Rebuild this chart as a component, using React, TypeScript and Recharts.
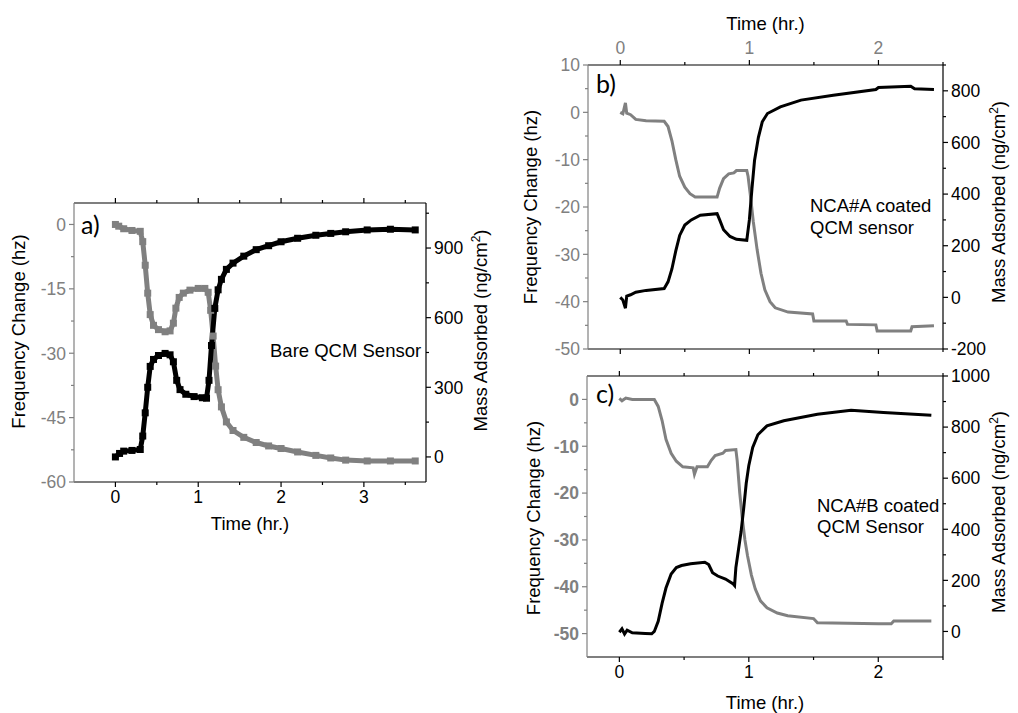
import { LineChart, Line, XAxis, YAxis } from "recharts";

const GRAY = "#808080";
const BLACK = "#000000";
const FONT = "'Liberation Sans', Arial, sans-serif";

// ---- panel a: bare QCM sensor ----
const aFreqTime = [0, 0.04, 0.1, 0.2, 0.3, 0.33, 0.36, 0.39, 0.42, 0.46, 0.52, 0.6, 0.66, 0.7, 0.73, 0.77, 0.82, 0.9, 1.0, 1.08, 1.12, 1.15, 1.18, 1.21, 1.24, 1.28, 1.34, 1.42, 1.55, 1.7, 1.85, 2.0, 2.2, 2.42, 2.6, 2.78, 3.04, 3.32, 3.62];
const aFreq = [0, -0.4, -1.0, -1.4, -1.6, -4, -9.5, -16, -21, -23.5, -24.5, -25, -24.8, -23, -19.5, -17, -16, -15.3, -14.9, -14.9, -15.8, -20, -26, -33, -38.5, -42.5, -46, -48, -49.6, -50.8, -51.6, -52.2, -53, -53.8, -54.4, -54.9, -55.1, -55.1, -55.1];
const aMassTime = [0, 0.05, 0.1, 0.2, 0.3, 0.33, 0.36, 0.39, 0.42, 0.46, 0.52, 0.6, 0.66, 0.7, 0.74, 0.78, 0.85, 0.95, 1.05, 1.1, 1.13, 1.16, 1.2, 1.24, 1.28, 1.34, 1.42, 1.55, 1.7, 1.85, 2.0, 2.2, 2.42, 2.6, 2.78, 3.04, 3.32, 3.62];
const aMass = [0, 15, 25, 28, 32, 90, 190, 300, 390, 420, 437, 446, 440, 410, 330, 290, 270, 260, 255, 253, 330, 480, 640, 720, 765, 808, 835, 865, 893, 910, 927, 942, 955, 963, 970, 978, 981, 978];
const aTimeTicks = [0, 0.5, 1, 1.5, 2, 2.5, 3, 3.5];
const aTimeMajor = [0, 1, 2, 3];
const aFreqTicks = [-60, -52.5, -45, -37.5, -30, -22.5, -15, -7.5, 0];
const aFreqMajor = [-60, -45, -30, -15, 0];
const aMassTicks = [0, 150, 300, 450, 600, 750, 900, 1050];
const aMassMajor = [0, 300, 600, 900];

// ---- panel b: NCA#A coated ----
const bFreqTime = [0, 0.02, 0.04, 0.05, 0.08, 0.12, 0.2, 0.34, 0.37, 0.4, 0.43, 0.46, 0.5, 0.54, 0.58, 0.75, 0.77, 0.8, 0.84, 0.88, 0.9, 0.98, 0.99, 1.01, 1.03, 1.06, 1.09, 1.12, 1.16, 1.2, 1.3, 1.49, 1.5, 1.75, 1.76, 1.98, 1.99, 2.25, 2.26, 2.43];
const bFreq = [0, -0.3, 2.0, -0.2, -0.5, -1.5, -1.8, -1.9, -3, -6, -10, -13.5, -15.8, -17.2, -17.9, -17.9, -16, -14, -13, -12.8, -12.3, -12.3, -13.5, -18, -23, -29, -34, -37.5, -40, -41.3, -42.2, -42.6, -44.1, -44.1, -44.8, -44.9, -46.2, -46.2, -45.3, -45.1];
const bMassTime = [0, 0.02, 0.04, 0.05, 0.08, 0.12, 0.2, 0.34, 0.37, 0.4, 0.43, 0.46, 0.5, 0.55, 0.62, 0.75, 0.77, 0.8, 0.85, 0.9, 0.98, 1.0, 1.02, 1.04, 1.07, 1.1, 1.14, 1.24, 1.4, 1.65, 1.98, 2.0, 2.25, 2.28, 2.43];
const bMass = [0, -10, -42, 5, 10, 20, 27, 34, 60, 110, 180, 240, 280, 300, 318, 324, 300, 262, 236, 225, 221, 300, 420, 530, 620, 680, 712, 738, 764, 783, 805, 813, 818, 808, 805];
const bTimeTicks = [0, 0.5, 1, 1.5, 2, 2.5];
const bTimeMajor = [0, 1, 2];
const bFreqTicks = [-50, -45, -40, -35, -30, -25, -20, -15, -10, -5, 0, 5, 10];
const bFreqMajor = [-50, -40, -30, -20, -10, 0, 10];
const bMassTicks = [-200, -100, 0, 100, 200, 300, 400, 500, 600, 700, 800, 900];
const bMassMajor = [-200, 0, 200, 400, 600, 800];

// ---- panel c: NCA#B coated ----
const cFreqTime = [0, 0.02, 0.05, 0.1, 0.2, 0.27, 0.3, 0.33, 0.36, 0.4, 0.44, 0.49, 0.57, 0.58, 0.6, 0.68, 0.71, 0.74, 0.8, 0.82, 0.9, 0.91, 0.93, 0.95, 0.97, 0.99, 1.02, 1.05, 1.09, 1.14, 1.22, 1.3, 1.5, 1.53, 2.0, 2.1, 2.12, 2.41];
const cFreq = [0.2, -0.3, 0.3, 0, 0, 0, -1.5, -4.5, -8.5, -11.5, -13.2, -14.4, -14.6, -16, -14.4, -14.4, -13, -12, -11.5, -10.9, -10.7, -13, -20, -25.5, -30, -33.4, -37.5, -40.5, -43, -44.5, -45.6, -46.2, -46.8, -47.7, -47.9, -47.9, -47.3, -47.3];
const cMassTime = [0, 0.02, 0.04, 0.06, 0.1, 0.2, 0.25, 0.27, 0.3, 0.33, 0.36, 0.4, 0.44, 0.48, 0.55, 0.66, 0.69, 0.72, 0.76, 0.82, 0.88, 0.89, 0.9, 0.92, 0.94, 0.96, 0.98, 1.0, 1.03, 1.07, 1.14, 1.27, 1.53, 1.79, 2.04, 2.41];
const cMass = [-3, 10, -10, 5, -5, -8, -9, 0, 40, 110, 170, 225, 250, 258, 265, 271, 262, 230, 217, 205, 186, 180, 250, 320, 390, 480, 580, 650, 720, 770, 805, 825, 850, 866, 857, 846];
const cTimeTicks = [0, 0.5, 1, 1.5, 2, 2.5];
const cTimeMajor = [0, 1, 2];
const cFreqTicks = [-50, -45, -40, -35, -30, -25, -20, -15, -10, -5, 0];
const cFreqMajor = [-50, -40, -30, -20, -10, 0];
const cMassTicks = [0, 100, 200, 300, 400, 500, 600, 700, 800, 900, 1000];
const cMassMajor = [0, 200, 400, 600, 800, 1000];

const zip = (t: number[], v: number[]) => t.map((x, i) => ({ t: x, v: v[i] }));

type Side = "left" | "right" | "top" | "bottom";

const isMajor = (v: number, majors: number[]) => majors.some((m) => Math.abs(m - v) < 1e-6);

function tickFn(side: Side, majors: number[], labels: boolean, color: string, lineColor: string, bold = false) {
  return (p: any) => {
    const { x, y, payload, index } = p;
    const v = payload.value;
    const major = isMajor(v, majors);
    const len = major ? 5 : 3;
    const txt = { fill: color, fontSize: 17.5, fontFamily: FONT, fontWeight: bold ? 700 : 400 };
    let l;
    let t = null;
    if (side === "left") {
      l = <line x1={x} x2={x - len} y1={y} y2={y} stroke={lineColor} strokeWidth={1.2} />;
      if (labels && major) t = <text x={x - 8} y={y} dy="0.36em" textAnchor="end" {...txt}>{v}</text>;
    } else if (side === "right") {
      l = <line x1={x} x2={x + len} y1={y} y2={y} stroke={lineColor} strokeWidth={1.2} />;
      if (labels && major) t = <text x={x + 8} y={y} dy="0.36em" textAnchor="start" {...txt}>{v}</text>;
    } else if (side === "bottom") {
      l = <line x1={x} x2={x} y1={y} y2={y + len} stroke={lineColor} strokeWidth={1.2} />;
      if (labels && major) t = <text x={x} y={y + 21} textAnchor="middle" {...txt}>{v}</text>;
    } else {
      l = <line x1={x} x2={x} y1={y} y2={y - len} stroke={lineColor} strokeWidth={1.2} />;
      if (labels && major) t = <text x={x} y={y - 11} textAnchor="middle" {...txt}>{v}</text>;
    }
    return (
      <g key={`${side}-${index}`}>
        {l}
        {t}
      </g>
    );
  };
}

const titleStyle = { fill: BLACK, fontSize: 18.5, fontFamily: FONT };

function hTitle(text: string, baseline: number) {
  return (p: any) => {
    const vb = p.viewBox;
    return (
      <text x={vb.x + vb.width / 2} y={vb.y + baseline} textAnchor="middle" {...titleStyle}>
        {text}
      </text>
    );
  };
}

function vTitle(text: string, baseX: number, shiftY: number, sup?: string) {
  return (p: any) => {
    const vb = p.viewBox;
    const x = vb.x + baseX;
    const y = vb.y + vb.height / 2 + shiftY;
    return (
      <text x={x} y={y} transform={`rotate(-90 ${x} ${y})`} textAnchor="middle" {...titleStyle}>
        {text}
        {sup ? (
          <>
            <tspan dy={-7} fontSize={12}>{sup}</tspan>
            <tspan dy={7}>)</tspan>
          </>
        ) : null}
      </text>
    );
  };
}

const squareDot = (color: string) => (p: any) => (
  <rect key={`d-${p.index}`} x={p.cx - 3.5} y={p.cy - 3.5} width={7} height={7} fill={color} />
);

const axisLine = (c: string) => ({ stroke: c, strokeWidth: 1.2 });
const noMargin = { top: 0, right: 0, bottom: 0, left: 0 };

function PanelA() {
  return (
    <LineChart width={500} height={382} margin={noMargin}>
      <XAxis xAxisId="bot" type="number" dataKey="t" domain={[-0.5, 3.75]} ticks={aTimeTicks} interval={0}
        height={60} tickSize={0} tickMargin={0} tickLine={false} axisLine={axisLine(BLACK)}
        tick={tickFn("bottom", aTimeMajor, true, BLACK, BLACK)} label={{ content: hTitle("Time (hr.)", 48) }} />
      <XAxis xAxisId="top" orientation="top" type="number" dataKey="t" domain={[-0.5, 3.75]} ticks={aTimeTicks} interval={0}
        height={43} tickSize={0} tickMargin={0} tickLine={false} axisLine={axisLine(BLACK)}
        tick={tickFn("top", aTimeMajor, false, BLACK, BLACK)} />
      <YAxis yAxisId="f" type="number" domain={[-60, 5]} ticks={aFreqTicks} interval={0} width={74}
        tickSize={0} tickMargin={0} tickLine={false} axisLine={axisLine(GRAY)}
        tick={tickFn("left", aFreqMajor, true, GRAY, GRAY)} label={{ content: vTitle("Frequency Change (hz)", 25, -11) }} />
      <YAxis yAxisId="m" orientation="right" type="number" domain={[-108, 1094]} ticks={aMassTicks} interval={0} width={74}
        tickSize={0} tickMargin={0} tickLine={false} axisLine={axisLine(BLACK)}
        tick={tickFn("right", aMassMajor, true, BLACK, BLACK)}
        label={{ content: vTitle("Mass Adsorbed (ng/cm", 61, -12, "2") }} />
      <Line xAxisId="top" yAxisId="f" data={zip(aFreqTime, aFreq)} dataKey="v" type="linear" stroke={GRAY}
        strokeWidth={5} dot={squareDot(GRAY)} isAnimationActive={false} />
      <Line xAxisId="bot" yAxisId="m" data={zip(aMassTime, aMass)} dataKey="v" type="linear" stroke={BLACK}
        strokeWidth={5} dot={squareDot(BLACK)} isAnimationActive={false} />
    </LineChart>
  );
}

function PanelB() {
  return (
    <LineChart width={518} height={359} margin={noMargin}>
      <XAxis xAxisId="bot" type="number" dataKey="t" domain={[-0.25, 2.5]} ticks={bTimeTicks} interval={0}
        height={10} tickSize={0} tickMargin={0} tickLine={false} axisLine={axisLine(BLACK)}
        tick={tickFn("bottom", bTimeMajor, false, BLACK, BLACK)} />
      <XAxis xAxisId="top" orientation="top" type="number" dataKey="t" domain={[-0.25, 2.5]} ticks={bTimeTicks} interval={0}
        height={65} tickSize={0} tickMargin={0} tickLine={false} axisLine={axisLine(BLACK)}
        tick={tickFn("top", bTimeMajor, true, GRAY, BLACK)} label={{ content: hTitle("Time (hr.)", 30) }} />
      <YAxis yAxisId="f" type="number" domain={[-50, 10]} ticks={bFreqTicks} interval={0} width={88}
        tickSize={0} tickMargin={0} tickLine={false} axisLine={axisLine(GRAY)}
        tick={tickFn("left", bFreqMajor, true, GRAY, GRAY)} label={{ content: vTitle("Frequency Change (hz)", 37, 0) }} />
      <YAxis yAxisId="m" orientation="right" type="number" domain={[-200, 900]} ticks={bMassTicks} interval={0} width={75}
        tickSize={0} tickMargin={0} tickLine={false} axisLine={axisLine(BLACK)}
        tick={tickFn("right", bMassMajor, true, BLACK, BLACK)}
        label={{ content: vTitle("Mass Adsorbed (ng/cm", 62, -5, "2") }} />
      <Line xAxisId="top" yAxisId="f" data={zip(bFreqTime, bFreq)} dataKey="v" type="linear" stroke={GRAY}
        strokeWidth={3} dot={false} isAnimationActive={false} />
      <Line xAxisId="bot" yAxisId="m" data={zip(bMassTime, bMass)} dataKey="v" type="linear" stroke={BLACK}
        strokeWidth={3} dot={false} isAnimationActive={false} />
    </LineChart>
  );
}

function PanelC() {
  return (
    <LineChart width={518} height={353} margin={noMargin}>
      <XAxis xAxisId="bot" type="number" dataKey="t" domain={[-0.25, 2.5]} ticks={cTimeTicks} interval={0}
        height={56} tickSize={0} tickMargin={0} tickLine={false} axisLine={axisLine(BLACK)}
        tick={tickFn("bottom", cTimeMajor, true, BLACK, BLACK)} label={{ content: hTitle("Time (hr.)", 52) }} />
      <XAxis xAxisId="top" orientation="top" type="number" dataKey="t" domain={[-0.25, 2.5]} ticks={cTimeTicks} interval={0}
        height={16} tickSize={0} tickMargin={0} tickLine={false} axisLine={axisLine(BLACK)}
        tick={tickFn("top", cTimeMajor, false, BLACK, BLACK)} />
      <YAxis yAxisId="f" type="number" domain={[-55, 5]} ticks={cFreqTicks} interval={0} width={87}
        tickSize={0} tickMargin={0} tickLine={false} axisLine={axisLine(GRAY)}
        tick={tickFn("left", cFreqMajor, true, GRAY, GRAY, true)} label={{ content: vTitle("Frequency Change (hz)", 40, 1.5) }} />
      <YAxis yAxisId="m" orientation="right" type="number" domain={[-100, 1000]} ticks={cMassTicks} interval={0} width={75}
        tickSize={0} tickMargin={0} tickLine={false} axisLine={axisLine(BLACK)}
        tick={tickFn("right", cMassMajor, true, BLACK, BLACK)}
        label={{ content: vTitle("Mass Adsorbed (ng/cm", 62, -4.5, "2") }} />
      <Line xAxisId="top" yAxisId="f" data={zip(cFreqTime, cFreq)} dataKey="v" type="linear" stroke={GRAY}
        strokeWidth={3} dot={false} isAnimationActive={false} />
      <Line xAxisId="bot" yAxisId="m" data={zip(cMassTime, cMass)} dataKey="v" type="linear" stroke={BLACK}
        strokeWidth={3} dot={false} isAnimationActive={false} />
    </LineChart>
  );
}

const note = { fill: BLACK, fontSize: 18.5, fontFamily: FONT };
const tag = { fill: BLACK, fontSize: 25, fontFamily: "Lato, 'Open Sans', sans-serif" };

export default function App() {
  return (
    <div style={{ position: "absolute", left: 0, top: 0, width: 1018, height: 713, background: "#fff" }}>
      <div style={{ position: "absolute", left: 0, top: 160 }}>
        <PanelA />
      </div>
      <div style={{ position: "absolute", left: 500, top: 0 }}>
        <PanelB />
      </div>
      <div style={{ position: "absolute", left: 500, top: 360 }}>
        <PanelC />
      </div>
      <svg width={1018} height={713} style={{ position: "absolute", left: 0, top: 0, pointerEvents: "none" }}>
        <text x={81} y={234} {...tag}>a)</text>
        <text x={596} y={93} {...tag}>b)</text>
        <text x={596} y={403} {...tag}>c)</text>
        <text x={270} y={357} {...note}>Bare QCM Sensor</text>
        <text x={810} y={212} {...note}>NCA#A coated</text>
        <text x={810} y={234} {...note}>QCM sensor</text>
        <text x={817} y={512} {...note}>NCA#B coated</text>
        <text x={817} y={533} {...note}>QCM Sensor</text>
      </svg>
    </div>
  );
}
